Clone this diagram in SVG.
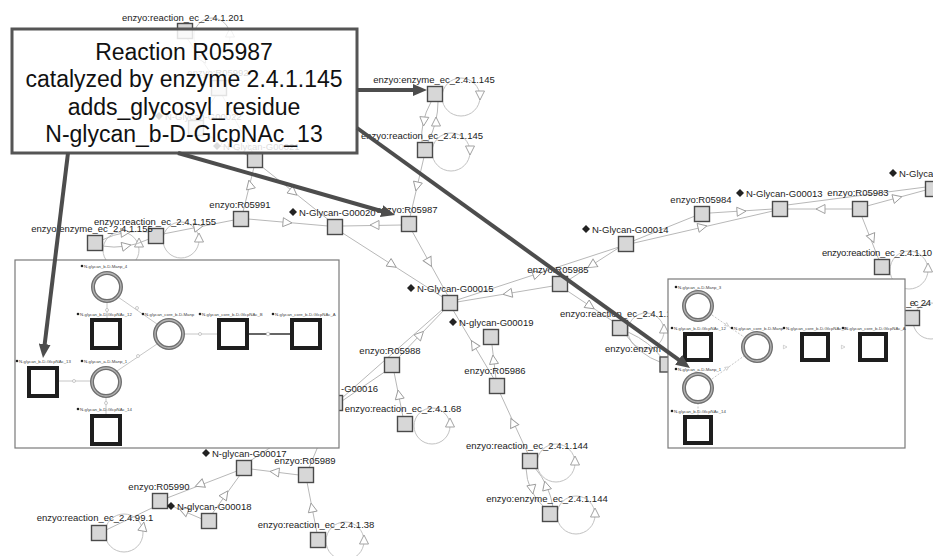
<svg xmlns="http://www.w3.org/2000/svg" width="933" height="556" viewBox="0 0 933 556">
<style>
.e{stroke:#b8b8b8;stroke-width:1;fill:none}
.lp{stroke:#c2c2c2;stroke-width:1;fill:none}
.sq{fill:#d7d7d7;stroke:#4a4a4a;stroke-width:1.4}
.lb{font-family:"Liberation Sans",Arial,sans-serif;font-size:9.5px;fill:#222;text-anchor:middle}
.ls{font-family:"Liberation Sans",Arial,sans-serif;font-size:9.5px;fill:#222}
.dm{fill:#222}
.big{stroke:#4d4d4d;stroke-width:4;fill:none}
.co{font-family:"Liberation Sans",Arial,sans-serif;font-size:23px;fill:#111;text-anchor:middle}
.ib{fill:#fff;stroke:#7a7a7a;stroke-width:1.2}
.isq{fill:#fff;stroke:#1e1e1e;stroke-width:4}
.ic{fill:#fff;stroke:#6f6f6f;stroke-width:4}
.ic2{fill:none;stroke:#b4b4b4;stroke-width:1.3}
.tl{font-family:"Liberation Sans",Arial,sans-serif;font-size:4.3px;fill:#444}
.ie{stroke:#b8b8b8;stroke-width:0.8;fill:none}
.dot{fill:#fff;stroke:#aaa;stroke-width:0.6}
</style>
<defs>
<path id="t" d="M5,0 L-4,-4.5 L-4,4.5 Z" fill="#fff" stroke="#999" stroke-width="0.9"/>
<path id="ts" d="M2,0 L-1.6,-1.8 L-1.6,1.8 Z" fill="#fff" stroke="#aaa" stroke-width="0.5"/>
<marker id="ah" viewBox="0 0 14 12" refX="5" refY="6" markerWidth="14" markerHeight="12" markerUnits="userSpaceOnUse" orient="auto"><path d="M0,0 L14,6 L0,12 Z" fill="#4d4d4d"/></marker>
</defs>
<rect width="933" height="556" fill="#fff"/>

<g id="connectors">
<path class="e" d="M187,38 L216,81 M216,95 L200,121 M203,133 L249,156 M222,95 L253,153"/>
<circle class="lp" cx="212" cy="36" r="18"/>
<use href="#t" transform="translate(230,33) rotate(-90)"/>
<use href="#t" transform="translate(203,59) rotate(57)"/>
<use href="#t" transform="translate(226,144) rotate(28)"/>
<circle class="lp" cx="461" cy="97" r="19"/>
<use href="#t" transform="translate(480,95) rotate(90)"/>
<circle class="lp" cx="451" cy="152" r="19"/>
<use href="#t" transform="translate(470,150) rotate(90)"/>
<path class="e" d="M431,102 Q420,122 422,142 M428,142 Q438,122 438,102"/>
<use href="#t" transform="translate(424,121) rotate(95)"/>
<use href="#t" transform="translate(436,122) rotate(-90)"/>
<path class="e" d="M424,157 L410,217"/>
<use href="#t" transform="translate(417,186) rotate(103)"/>
<path class="e" d="M402,225 L342,226"/>
<use href="#t" transform="translate(375,225) rotate(180)"/>
<path class="e" d="M248,219 L328,226"/>
<use href="#t" transform="translate(287,222.5) rotate(5)"/>
<path class="e" d="M254,167 L243,212"/>
<use href="#t" transform="translate(250,185) rotate(-103)"/>
<path class="e" d="M261,166 L330,221"/>
<use href="#t" transform="translate(293,192) rotate(39)"/>
<circle class="lp" cx="181" cy="240" r="18"/>
<use href="#t" transform="translate(199,238) rotate(-90)"/>
<path class="e" d="M163,234 L234,220"/>
<use href="#t" transform="translate(198,227) rotate(-11)"/>
<circle class="lp" cx="121" cy="250" r="18"/>
<use href="#t" transform="translate(139,243) rotate(-90)"/>
<path class="e" d="M102,240 Q125,229 149,232 M102,246 Q126,250 149,239"/>
<use href="#t" transform="translate(125,232.5) rotate(-5)"/>
<use href="#t" transform="translate(126,246) rotate(-12)"/>
<path class="e" d="M341,232 L444,298"/>
<use href="#t" transform="translate(392,264.5) rotate(33)"/>
<path class="e" d="M412,231 L448,296"/>
<use href="#t" transform="translate(429,262) rotate(61)"/>
<path class="e" d="M457,300 L619,247"/>
<use href="#t" transform="translate(537,274) rotate(-18)"/>
<path class="e" d="M620,247 L567,281"/>
<use href="#t" transform="translate(592,265) rotate(148)"/>
<path class="e" d="M553,286 L457,302"/>
<use href="#t" transform="translate(508,293.5) rotate(170)"/>
<path class="e" d="M566,290 L614,322"/>
<use href="#t" transform="translate(590,306) rotate(34)"/>
<circle class="lp" cx="646" cy="331" r="18"/>
<use href="#t" transform="translate(664,329) rotate(-90)"/>
<path class="e" d="M626,335 Q640,355 660,362 M628,332 Q650,342 662,358"/>
<path class="e" d="M633,241 L695,216"/>
<path class="e" d="M634,243 L773,211"/>
<use href="#t" transform="translate(702,227) rotate(-13)"/>
<path class="e" d="M710,213 L773,209"/>
<use href="#t" transform="translate(741,211.5) rotate(-4)"/>
<path class="e" d="M853,209 L787,209"/>
<use href="#t" transform="translate(821,209) rotate(180)"/>
<path class="e" d="M787,205 L926,187"/>
<path class="e" d="M867,206 L926,190"/>
<use href="#t" transform="translate(897,198) rotate(-15)"/>
<path class="e" d="M862,217 L879,260"/>
<use href="#t" transform="translate(872,238) rotate(68)"/>
<circle class="lp" cx="909" cy="270" r="19"/>
<use href="#t" transform="translate(928,268) rotate(-90)"/>
<circle class="lp" cx="931" cy="321" r="18"/>
<use href="#t" transform="translate(914,318) rotate(0)"/>
<path class="e" d="M445,309 L397,359"/>
<use href="#t" transform="translate(420,335) rotate(-46)"/>
<path class="e" d="M444,308 L342,398 M386,371 L342,401"/>
<path class="e" d="M403,417 L394,372"/>
<use href="#t" transform="translate(399,395) rotate(-101)"/>
<circle class="lp" cx="432" cy="426" r="18"/>
<use href="#t" transform="translate(450,423) rotate(-90)"/>
<path class="e" d="M453,310 L494,379"/>
<use href="#t" transform="translate(474,345) rotate(-121)"/>
<path class="e" d="M496,379 L492,345"/>
<use href="#t" transform="translate(493.5,360) rotate(-97)"/>
<path class="e" d="M528,454 L500,393"/>
<use href="#t" transform="translate(513,423) rotate(-115)"/>
<circle class="lp" cx="556" cy="463" r="19"/>
<use href="#t" transform="translate(575,461) rotate(-90)"/>
<path class="e" d="M526,468 Q527,492 544,507 M553,507 Q549,484 535,468"/>
<use href="#t" transform="translate(532,489) rotate(80)"/>
<use href="#t" transform="translate(546,486) rotate(-105)"/>
<circle class="lp" cx="576" cy="515" r="19"/>
<use href="#t" transform="translate(595,513) rotate(-90)"/>
<path class="e" d="M299,475 L251,469"/>
<use href="#t" transform="translate(275,472) rotate(187)"/>
<path class="e" d="M250,461 L330,408 M309,468 L333,410"/>
<path class="e" d="M237,471 L167,498"/>
<use href="#t" transform="translate(200,484.5) rotate(159)"/>
<path class="e" d="M212,514 L240,475"/>
<use href="#t" transform="translate(225,495) rotate(-55)"/>
<path class="e" d="M202,519 L167,504"/>
<use href="#t" transform="translate(184,511) rotate(203)"/>
<path class="e" d="M154,507 L106,530"/>
<circle class="lp" cx="124" cy="533" r="19"/>
<use href="#t" transform="translate(143,527) rotate(-80)"/>
<path class="e" d="M317,533 L307,482"/>
<use href="#t" transform="translate(312,508) rotate(-101)"/>
<circle class="lp" cx="345" cy="541" r="19"/>
<use href="#t" transform="translate(364,540) rotate(-90)"/>
</g>

<g id="n201"><rect class="sq" x="177.5" y="23.5" width="15" height="15"/><text class="lb" x="183" y="20.5">enzyo:reaction_ec_2.4.1.201</text></g>
<g id="nR05992"><rect class="sq" x="211.5" y="80.5" width="15" height="15"/><text class="lb" x="218" y="75.5">enzyo:R05992</text></g>
<g id="nG00022"><rect class="sq" x="188.5" y="120.5" width="15" height="15"/><polygon class="dm" points="159,112 163,116 159,120 155,116"/><text class="ls" x="165" y="119.5">N-Glycan-G00022</text></g>
<g id="nG00021"><rect class="sq" x="247.5" y="152.5" width="15" height="15"/><polygon class="dm" points="217,142 221,146 217,150 213,146"/><text class="ls" x="223" y="149.5">N-Glycan-G00021</text></g>
<g id="nE145"><rect class="sq" x="427.5" y="86.5" width="15" height="15"/><text class="lb" x="434" y="83">enzyo:enzyme_ec_2.4.1.145</text></g>
<g id="nR145"><rect class="sq" x="417.5" y="142.5" width="15" height="15"/><text class="lb" x="422" y="139">enzyo:reaction_ec_2.4.1.145</text></g>
<g id="nR05987"><rect class="sq" x="401.5" y="216.5" width="15" height="15"/><text class="lb" x="407" y="213">enzyo:R05987</text></g>
<g id="nG00020"><rect class="sq" x="327.5" y="219.5" width="15" height="15"/><polygon class="dm" points="293,208 297,212 293,216 289,212"/><text class="ls" x="299" y="215.5">N-Glycan-G00020</text></g>
<g id="nR05991"><rect class="sq" x="233.5" y="211.5" width="15" height="15"/><text class="lb" x="240" y="208">enzyo:R05991</text></g>
<g id="nR155"><rect class="sq" x="148.5" y="228.5" width="15" height="15"/><text class="lb" x="155" y="225">enzyo:reaction_ec_2.4.1.155</text></g>
<g id="nE155"><rect class="sq" x="87.5" y="235.5" width="15" height="15"/><text class="lb" x="92" y="232">enzyo:enzyme_ec_2.4.1.155</text></g>
<g id="nG00015"><rect class="sq" x="442.5" y="295.5" width="15" height="15"/><polygon class="dm" points="411,284 415,288 411,292 407,288"/><text class="ls" x="417" y="291.5">N-Glycan-G00015</text></g>
<g id="nR05985"><rect class="sq" x="552.5" y="276.5" width="15" height="15"/><text class="lb" x="558" y="273">enzyo:R05985</text></g>
<g id="nR1x"><rect class="sq" x="612.5" y="320.5" width="15" height="15"/><text class="ls" x="560" y="317">enzyo:reaction_ec_2.4.1.1</text></g>
<g id="nE1x"><rect class="sq" x="660" y="357" width="15" height="15"/><text class="ls" x="605" y="352">enzyo:enzym</text></g>
<g id="nG00014"><rect class="sq" x="618.5" y="236.5" width="15" height="15"/><polygon class="dm" points="586,225 590,229 586,233 582,229"/><text class="ls" x="592" y="232.5">N-Glycan-G00014</text></g>
<g id="nR05984"><rect class="sq" x="694.5" y="206.5" width="15" height="15"/><text class="lb" x="701" y="203">enzyo:R05984</text></g>
<g id="nG00013"><rect class="sq" x="772.5" y="201.5" width="15" height="15"/><polygon class="dm" points="740,189 744,193 740,197 736,193"/><text class="ls" x="746" y="196.5">N-Glycan-G00013</text></g>
<g id="nR05983"><rect class="sq" x="852.5" y="201.5" width="15" height="15"/><text class="lb" x="858" y="196">enzyo:R05983</text></g>
<g id="nGx"><rect class="sq" x="925.5" y="181.5" width="15" height="15"/><polygon class="dm" points="893,169 897,173 893,177 889,173"/><text class="ls" x="899" y="176.5">N-Glyca</text></g>
<g id="nR10"><rect class="sq" x="874.5" y="259.5" width="15" height="15"/><text class="ls" x="822" y="256" textLength="110">enzyo:reaction_ec_2.4.1.10</text></g>
<g id="nRy"><rect class="sq" x="904.5" y="310.5" width="15" height="15"/><text class="ls" x="906" y="306" textLength="25">_ec_2.4</text></g>
<g id="nG00019"><rect class="sq" x="483.5" y="329.5" width="15" height="15"/><polygon class="dm" points="453,318 457,322 453,326 449,322"/><text class="ls" x="459" y="325.5">N-glycan-G00019</text></g>
<g id="nR05988"><rect class="sq" x="384.5" y="357.5" width="15" height="15"/><text class="lb" x="390" y="354">enzyo:R05988</text></g>
<g id="nG00016"><rect class="sq" x="327.5" y="395.5" width="15" height="15"/><text class="ls" x="341" y="391.5">-G00016</text></g>
<g id="nR68"><rect class="sq" x="397.5" y="416.5" width="15" height="15"/><text class="lb" x="403" y="412">enzyo:reaction_ec_2.4.1.68</text></g>
<g id="nR05986"><rect class="sq" x="489.5" y="378.5" width="15" height="15"/><text class="lb" x="495" y="374">enzyo:R05986</text></g>
<g id="nR144"><rect class="sq" x="522.5" y="453.5" width="15" height="15"/><text class="lb" x="527" y="449">enzyo:reaction_ec_2.4.1.144</text></g>
<g id="nE144"><rect class="sq" x="542.5" y="506.5" width="15" height="15"/><text class="lb" x="547" y="502">enzyo:enzyme_ec_2.4.1.144</text></g>
<g id="nG00017"><rect class="sq" x="236.5" y="460.5" width="15" height="15"/><polygon class="dm" points="206,449 210,453 206,457 202,453"/><text class="ls" x="212" y="456.5">N-glycan-G00017</text></g>
<g id="nR05989"><rect class="sq" x="298.5" y="467.5" width="15" height="15"/><text class="lb" x="305" y="464">enzyo:R05989</text></g>
<g id="nR05990"><rect class="sq" x="152.5" y="493.5" width="15" height="15"/><text class="lb" x="159" y="490">enzyo:R05990</text></g>
<g id="nG00018"><rect class="sq" x="201.5" y="513.5" width="15" height="15"/><polygon class="dm" points="171,502 175,506 171,510 167,506"/><text class="ls" x="177" y="509.5">N-glycan-G00018</text></g>
<g id="nR99"><rect class="sq" x="91.5" y="525.5" width="15" height="15"/><text class="lb" x="95" y="521">enzyo:reaction_ec_2.4.99.1</text></g>
<g id="nR38"><rect class="sq" x="310.5" y="532.5" width="15" height="15"/><text class="lb" x="316" y="528">enzyo:reaction_ec_2.4.1.38</text></g>

<g id="insetLeft">
<rect class="ib" x="15" y="260" width="324" height="188"/>
<path class="ie" d="M118,297 L157,324 M107,302 L107,318 M185,334 L217,334 M117,371 L157,344 M58,381 L91,381 M106,397 L106,414"/>
<path d="M248,334 L290,334" stroke="#666" stroke-width="1.8"/>
<circle class="dot" cx="137" cy="308" r="1.5"/><circle class="dot" cx="107" cy="310" r="1.5"/><circle class="dot" cx="200" cy="334" r="1.5"/><circle class="dot" cx="268" cy="334" r="1.8"/><circle class="dot" cx="138" cy="356" r="1.5"/><circle class="dot" cx="74" cy="381" r="1.5"/><circle class="dot" cx="106" cy="403" r="1.5"/>
<circle class="ic" cx="107" cy="287" r="14"/><circle class="ic2" cx="107" cy="287" r="14"/>
<circle class="ic" cx="169" cy="334" r="14"/><circle class="ic2" cx="169" cy="334" r="14"/>
<circle class="ic" cx="106" cy="382" r="14"/><circle class="ic2" cx="106" cy="382" r="14"/>
<rect class="isq" x="92" y="320" width="28" height="28"/>
<rect class="isq" x="219" y="320" width="28" height="28"/>
<rect class="isq" x="292" y="320" width="28" height="28"/>
<rect class="isq" x="29" y="368" width="28" height="28"/>
<rect class="isq" x="92" y="416" width="28" height="28"/>
<g class="dm"><circle cx="82" cy="266" r="1.3"/><circle cx="78" cy="314" r="1.3"/><circle cx="143" cy="314" r="1.3"/><circle cx="200" cy="314" r="1.3"/><circle cx="273" cy="314" r="1.3"/><circle cx="17" cy="361" r="1.3"/><circle cx="82" cy="361" r="1.3"/><circle cx="78" cy="409" r="1.3"/></g>
<text class="tl" x="84" y="267.5">N-glycan_b-D-Manp_4</text>
<text class="tl" x="80" y="315.5">N-glycan_b-D-GlcpNAc_12</text>
<text class="tl" x="145" y="315.5">N-glycan_core_b-D-Manp</text>
<text class="tl" x="202" y="315.5">N-glycan_core_b-D-GlcpNAc_B</text>
<text class="tl" x="275" y="315.5">N-glycan_core_b-D-GlcpNAc_A</text>
<text class="tl" x="19" y="362.5">N-glycan_b-D-GlcpNAc_13</text>
<text class="tl" x="84" y="362.5">N-glycan_a-D-Manp_1</text>
<text class="tl" x="80" y="410.5">N-glycan_b-D-GlcpNAc_14</text>
</g>

<g id="insetRight">
<rect class="ib" x="668" y="279" width="237" height="169"/>
<path class="ie" d="M712,315 L744,337 M712,379 L744,356 M698,403 L698,415" stroke-dasharray="2,1.5"/>
<use href="#ts" transform="translate(727,325) rotate(34)"/>
<use href="#ts" transform="translate(727,368) rotate(-34)"/>
<use href="#ts" transform="translate(785,347)"/>
<use href="#ts" transform="translate(843,347)"/>
<circle class="ic" cx="698" cy="306" r="14"/><circle class="ic2" cx="698" cy="306" r="14"/>
<circle class="ic" cx="757" cy="347" r="14"/><circle class="ic2" cx="757" cy="347" r="14"/>
<circle class="ic" cx="698" cy="388" r="14"/><circle class="ic2" cx="698" cy="388" r="14"/>
<rect class="isq" x="685" y="334" width="26" height="26"/>
<rect class="isq" x="802" y="334" width="26" height="26"/>
<rect class="isq" x="860" y="334" width="26" height="26"/>
<rect class="isq" x="685" y="417" width="26" height="26"/>
<g class="dm"><circle cx="676" cy="287" r="1.3"/><circle cx="672" cy="328" r="1.3"/><circle cx="732" cy="328" r="1.3"/><circle cx="784" cy="328" r="1.3"/><circle cx="843" cy="328" r="1.3"/><circle cx="676" cy="369" r="1.3"/><circle cx="672" cy="411" r="1.3"/></g>
<text class="tl" x="678" y="288.5">N-glycan_a-D-Manp_3</text>
<text class="tl" x="674" y="329.5">N-glycan_b-D-GlcpNAc_12</text>
<text class="tl" x="734" y="329.5">N-glycan_core_b-D-Manp</text>
<text class="tl" x="786" y="329.5">N-glycan_core_b-D-GlcpNAc_B</text>
<text class="tl" x="845" y="329.5">N-glycan_core_b-D-GlcpNAc_A</text>
<text class="tl" x="678" y="370.5">N-glycan_a-D-Manp_1</text>
<text class="tl" x="674" y="412.5">N-glycan_b-D-GlcpNAc_14</text>
</g>

<g id="callout">
<rect x="12" y="29" width="345" height="124" fill="#fff" fill-opacity="0.84" stroke="#555" stroke-width="3"/>
<text class="co" x="184" y="60">Reaction R05987</text>
<text class="co" x="184" y="87.3">catalyzed by enzyme 2.4.1.145</text>
<text class="co" x="184" y="114.6">adds_glycosyl_residue</text>
<text class="co" x="184" y="142">N-glycan_b-D-GlcpNAc_13</text>
</g>

<g id="callout-arrows">
<path class="big" d="M357,90 L418,90" marker-end="url(#ah)"/>
<path class="big" d="M178,153 L386.4,212.5" marker-end="url(#ah)"/>
<path class="big" d="M357,128 L682.7,362.7" marker-end="url(#ah)"/>
<path class="big" d="M68,153 L44.1,349.1" marker-end="url(#ah)"/>
</g>
</svg>
